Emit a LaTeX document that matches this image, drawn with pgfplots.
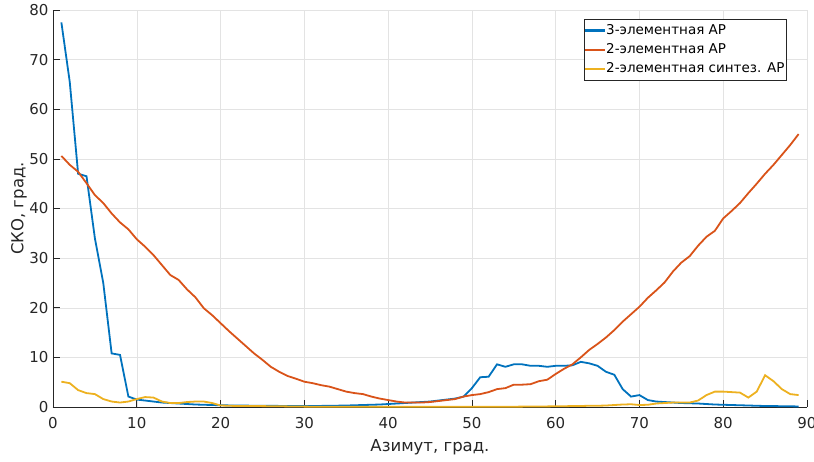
\documentclass[border=0pt]{standalone}
\usepackage{pgfplots}
\pgfplotsset{compat=1.18}
\usepackage{fontspec}
\setmainfont{DejaVu Sans}
\definecolor{mblue}{rgb}{0,0.447,0.741}
\definecolor{mred}{rgb}{0.85,0.325,0.098}
\definecolor{myel}{rgb}{0.929,0.694,0.125}
\definecolor{axgray}{rgb}{0.15,0.15,0.15}
\begin{document}
\begin{tikzpicture}
\begin{axis}[
  scale only axis, width=754pt, height=397pt,
  xmin=0, xmax=90, ymin=0, ymax=80,
  xtick={0,10,...,90}, ytick={0,10,...,80},
  axis x line*=bottom, axis y line*=left,
  axis line style={axgray, line width=0.6pt, -},
  tick style={axgray, line width=0.6pt},
  tick align=inside, major tick length=7pt,
  grid=major, major grid style={gray!22, line width=0.5pt},
  /pgf/number format/assume math mode=true,
  ticklabel style={font=\fontsize{15}{18}\selectfont, text=axgray},
  xticklabel style={yshift=-7pt},
  yticklabel style={xshift=-1pt},
  xlabel={Азимут, град.}, ylabel={СКО, град.},
  label style={font=\fontsize{16.5}{19}\selectfont, text=axgray},
  xlabel style={at={(axis description cs:0.5,-0.102)}, anchor=center},
  ylabel style={at={(axis description cs:-0.045,0.5)}, anchor=center},
  legend style={at={(axis description cs:0.973,0.977)}, anchor=north east,
    draw=axgray, fill=white,
    font=\fontsize{13.5}{15}\selectfont, text=black,
    inner xsep=1pt, inner ysep=3pt, row sep=2.5pt,
    nodes={inner xsep=1pt, inner ysep=2.5pt}},
  legend cell align=left,
  legend image code/.code={\fill[#1, draw=none] (-2pt,-1.1pt) rectangle (18pt,1.1pt);},
  every axis plot/.append style={line width=1.8pt},
]
\addplot[mblue] coordinates {
(1,77.5)(2,65.5)(3,47.0)(4,46.5)(5,34.0)(6,25.0)(7,10.8)(8,10.5)(9,2.1)(10,1.5)
(11,1.3)(12,1.1)(13,0.9)(14,0.8)(15,0.7)(16,0.6)(17,0.5)(18,0.45)(19,0.4)(20,0.35)
(21,0.32)(22,0.3)(23,0.28)(24,0.26)(25,0.25)(26,0.24)(27,0.22)(28,0.21)(29,0.2)(30,0.2)
(31,0.2)(32,0.22)(33,0.25)(34,0.27)(35,0.3)(36,0.35)(37,0.4)(38,0.45)(39,0.5)(40,0.6)
(41,0.7)(42,0.8)(43,0.9)(44,1.0)(45,1.1)(46,1.3)(47,1.5)(48,1.7)(49,2.1)(50,3.8)
(51,6.0)(52,6.1)(53,8.6)(54,8.1)(55,8.6)(56,8.6)(57,8.3)(58,8.3)(59,8.1)(60,8.3)
(61,8.3)(62,8.4)(63,9.1)(64,8.8)(65,8.3)(66,7.1)(67,6.5)(68,3.6)(69,2.1)(70,2.4)
(71,1.4)(72,1.1)(73,1.0)(74,0.9)(75,0.8)(76,0.75)(77,0.7)(78,0.6)(79,0.5)(80,0.45)
(81,0.4)(82,0.35)(83,0.3)(84,0.25)(85,0.2)(86,0.2)(87,0.15)(88,0.15)(89,0.1)
};
\addlegendentry{3-элементная АР}
\addplot[mred] coordinates {
(1,50.6)(2,48.8)(3,47.4)(4,45.1)(5,42.7)(6,41.1)(7,39.0)(8,37.2)(9,35.8)(10,33.8)
(11,32.3)(12,30.6)(13,28.6)(14,26.6)(15,25.6)(16,23.7)(17,22.1)(18,19.9)(19,18.5)(20,16.9)
(21,15.3)(22,13.8)(23,12.3)(24,10.8)(25,9.5)(26,8.1)(27,7.1)(28,6.25)(29,5.7)(30,5.1)
(31,4.8)(32,4.4)(33,4.1)(34,3.6)(35,3.1)(36,2.8)(37,2.6)(38,2.1)(39,1.7)(40,1.4)
(41,1.1)(42,0.9)(43,0.9)(44,0.9)(45,1.0)(46,1.2)(47,1.4)(48,1.6)(49,2.1)(50,2.4)
(51,2.6)(52,3.0)(53,3.6)(54,3.8)(55,4.5)(56,4.5)(57,4.6)(58,5.2)(59,5.5)(60,6.65)
(61,7.7)(62,8.6)(63,10.0)(64,11.5)(65,12.7)(66,14.0)(67,15.5)(68,17.2)(69,18.7)(70,20.2)
(71,22.0)(72,23.5)(73,25.1)(74,27.3)(75,29.1)(76,30.4)(77,32.5)(78,34.3)(79,35.5)(80,38.0)
(81,39.5)(82,41.1)(83,43.1)(84,45.0)(85,47.0)(86,48.8)(87,50.8)(88,52.8)(89,55.0)
};
\addlegendentry{2-элементная АР}
\addplot[myel] coordinates {
(1,5.1)(2,4.8)(3,3.4)(4,2.8)(5,2.6)(6,1.6)(7,1.1)(8,0.9)(9,1.1)(10,1.6)
(11,2.0)(12,1.9)(13,1.1)(14,0.8)(15,0.8)(16,1.0)(17,1.1)(18,1.1)(19,0.8)(20,0.3)
(21,0.25)(22,0.2)(23,0.2)(24,0.2)(25,0.18)(26,0.16)(27,0.15)(28,0.12)(29,0.1)(30,0.08)
(31,0.06)(32,0.05)(33,0.05)(34,0.05)(35,0.05)(36,0.05)(37,0.05)(38,0.05)(39,0.05)(40,0.05)
(41,0.05)(42,0.05)(43,0.05)(44,0.05)(45,0.05)(46,0.05)(47,0.05)(48,0.05)(49,0.05)(50,0.05)
(51,0.05)(52,0.05)(53,0.05)(54,0.06)(55,0.06)(56,0.08)(57,0.1)(58,0.1)(59,0.12)(60,0.15)
(61,0.15)(62,0.2)(63,0.2)(64,0.25)(65,0.25)(66,0.3)(67,0.4)(68,0.5)(69,0.55)(70,0.4)
(71,0.45)(72,0.7)(73,0.8)(74,0.9)(75,0.9)(76,0.9)(77,1.3)(78,2.4)(79,3.1)(80,3.1)
(81,3.0)(82,2.9)(83,1.9)(84,3.1)(85,6.4)(86,5.2)(87,3.6)(88,2.6)(89,2.4)
};
\addlegendentry{2-элементная синтез. АР}
\end{axis}
\pgfresetboundingbox
\path[use as bounding box] (-53pt,-54pt) rectangle (761pt,407pt);
\end{tikzpicture}
\end{document}
